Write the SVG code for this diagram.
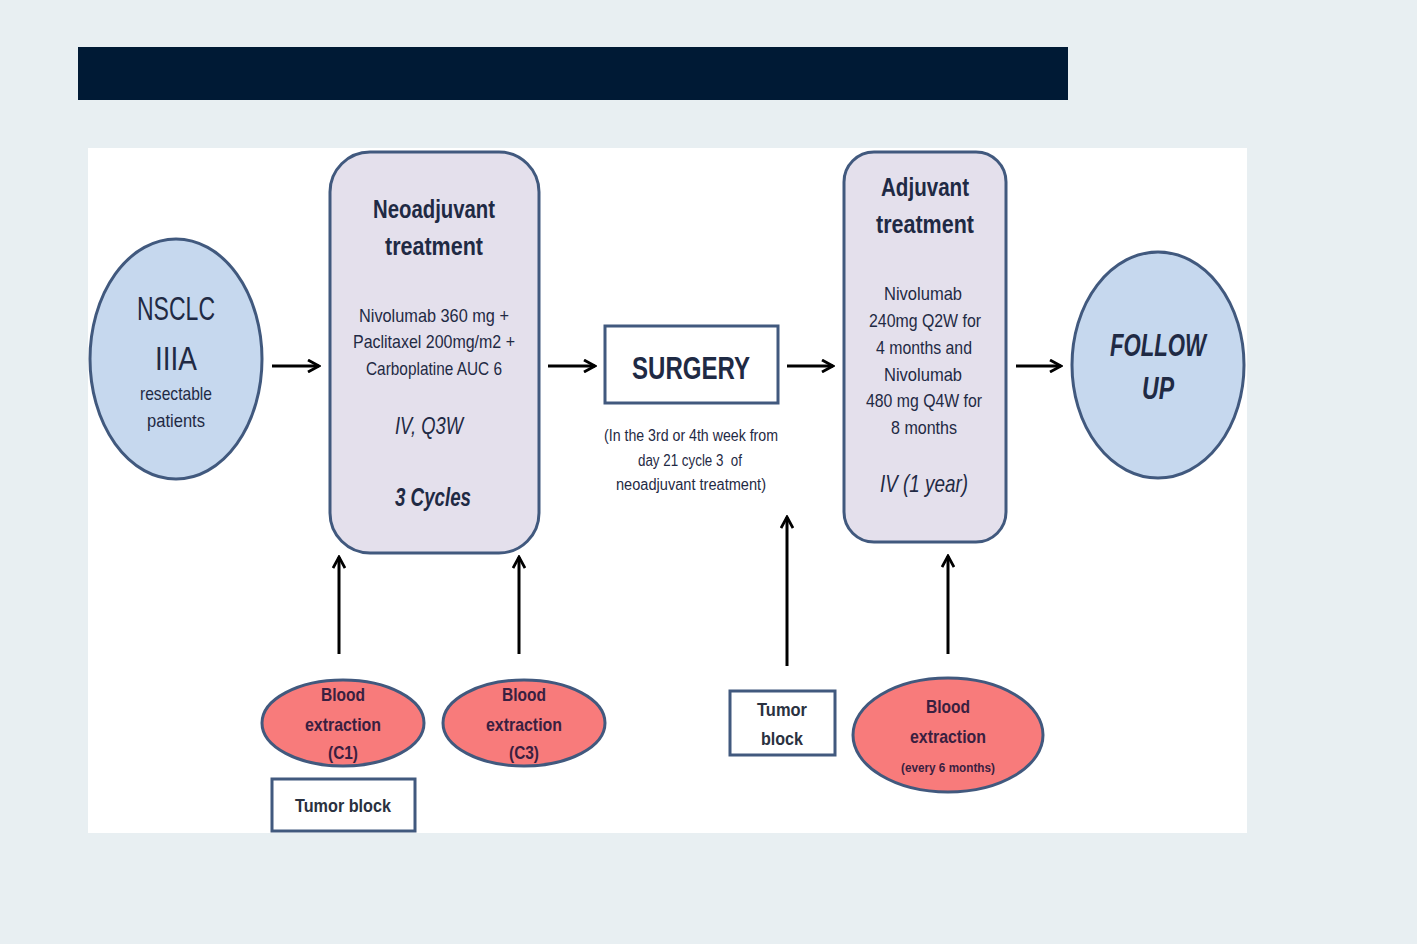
<svg xmlns="http://www.w3.org/2000/svg" width="1417" height="944" viewBox="0 0 1417 944">
<style>
text{font-family:"Liberation Sans Narrow","Liberation Sans",Arial,sans-serif;text-anchor:middle;fill:#1f2a44}
.ell{fill:#c6d8ee;stroke:#41597e;stroke-width:3}
.box{fill:#e4e0ec;stroke:#41597e;stroke-width:3}
.wbox{fill:#ffffff;stroke:#41597e;stroke-width:3}
.pink{fill:#f87b7b;stroke:#41597e;stroke-width:3}
.conn{stroke:#000;stroke-width:3;fill:none}
.b text{fill:#3a2040;font-weight:bold}
.t text{font-weight:bold;fill:#2a3140}
</style>
<defs>
<marker id="ah" viewBox="0 0 14 14" refX="12" refY="7" markerWidth="14" markerHeight="14" markerUnits="userSpaceOnUse" orient="auto">
<path d="M1,1 L12,7 L1,13" fill="none" stroke="#000" stroke-width="2.8"/>
</marker>
</defs>
<rect x="0" y="0" width="1417" height="944" fill="#e8eff2"/>
<rect x="78" y="47" width="990" height="53" fill="#001a35"/>
<rect x="88" y="148" width="1159" height="685" fill="#ffffff"/>

<g id="nsclc">
<ellipse class="ell" cx="176" cy="359" rx="86" ry="120"/>
<text x="176" y="320" font-size="34" textLength="78" lengthAdjust="spacingAndGlyphs">NSCLC</text>
<text x="176" y="370" font-size="34" textLength="42" lengthAdjust="spacingAndGlyphs">IIIA</text>
<text x="176" y="400" font-size="19" textLength="72" lengthAdjust="spacingAndGlyphs">resectable</text>
<text x="176" y="427" font-size="19" textLength="58" lengthAdjust="spacingAndGlyphs">patients</text>
</g>

<g id="neoadjuvant">
<rect class="box" x="330" y="152" width="209" height="401" rx="40"/>
<text x="434" y="218" font-size="26" font-weight="bold" textLength="122" lengthAdjust="spacingAndGlyphs">Neoadjuvant</text>
<text x="434" y="255" font-size="26" font-weight="bold" textLength="98" lengthAdjust="spacingAndGlyphs">treatment</text>
<text x="434" y="322" font-size="19" textLength="150" lengthAdjust="spacingAndGlyphs">Nivolumab 360 mg +</text>
<text x="434" y="348" font-size="19" textLength="162" lengthAdjust="spacingAndGlyphs">Paclitaxel 200mg/m2 +</text>
<text x="434" y="375" font-size="19" textLength="136" lengthAdjust="spacingAndGlyphs">Carboplatine AUC 6</text>
<text x="429" y="434" font-size="24" font-style="italic" textLength="68" lengthAdjust="spacingAndGlyphs">IV, Q3W</text>
<text x="433" y="506" font-size="25" font-style="italic" font-weight="bold" textLength="76" lengthAdjust="spacingAndGlyphs">3 Cycles</text>
</g>

<g id="surgery">
<rect class="wbox" x="605" y="326" width="173" height="77"/>
<text x="691" y="379" font-size="32" font-weight="bold" textLength="118" lengthAdjust="spacingAndGlyphs">SURGERY</text>
<text x="691" y="441" font-size="16" textLength="174" lengthAdjust="spacingAndGlyphs">(In the 3rd or 4th week from</text>
<text x="690" y="466" font-size="16" textLength="104" lengthAdjust="spacingAndGlyphs" xml:space="preserve">day 21 cycle 3  of</text>
<text x="691" y="490" font-size="16" textLength="150" lengthAdjust="spacingAndGlyphs">neoadjuvant treatment)</text>
</g>

<g id="adjuvant">
<rect class="box" x="844" y="152" width="162" height="390" rx="30"/>
<text x="925" y="196" font-size="25" font-weight="bold" textLength="88" lengthAdjust="spacingAndGlyphs">Adjuvant</text>
<text x="925" y="233" font-size="25" font-weight="bold" textLength="98" lengthAdjust="spacingAndGlyphs">treatment</text>
<text x="923" y="300" font-size="19" textLength="78" lengthAdjust="spacingAndGlyphs">Nivolumab</text>
<text x="925" y="327" font-size="19" textLength="112" lengthAdjust="spacingAndGlyphs">240mg Q2W for</text>
<text x="924" y="354" font-size="19" textLength="96" lengthAdjust="spacingAndGlyphs">4 months and</text>
<text x="923" y="381" font-size="19" textLength="78" lengthAdjust="spacingAndGlyphs">Nivolumab</text>
<text x="924" y="407" font-size="19" textLength="116" lengthAdjust="spacingAndGlyphs">480 mg Q4W for</text>
<text x="924" y="434" font-size="19" textLength="66" lengthAdjust="spacingAndGlyphs">8 months</text>
<text x="924" y="492" font-size="24" font-style="italic" textLength="88" lengthAdjust="spacingAndGlyphs">IV (1 year)</text>
</g>

<g id="followup">
<ellipse class="ell" cx="1158" cy="365" rx="86" ry="113"/>
<text x="1158" y="356" font-size="32" font-style="italic" font-weight="bold" textLength="96" lengthAdjust="spacingAndGlyphs">FOLLOW</text>
<text x="1158" y="399" font-size="32" font-style="italic" font-weight="bold" textLength="32" lengthAdjust="spacingAndGlyphs">UP</text>
</g>

<g id="blood-c1" class="b">
<ellipse class="pink" cx="343" cy="723" rx="81" ry="43"/>
<text x="343" y="701" font-size="19" textLength="44" lengthAdjust="spacingAndGlyphs">Blood</text>
<text x="343" y="731" font-size="19" textLength="76" lengthAdjust="spacingAndGlyphs">extraction</text>
<text x="343" y="759" font-size="19" textLength="30" lengthAdjust="spacingAndGlyphs">(C1)</text>
</g>

<g id="blood-c3" class="b">
<ellipse class="pink" cx="524" cy="723" rx="81" ry="43"/>
<text x="524" y="701" font-size="19" textLength="44" lengthAdjust="spacingAndGlyphs">Blood</text>
<text x="524" y="731" font-size="19" textLength="76" lengthAdjust="spacingAndGlyphs">extraction</text>
<text x="524" y="759" font-size="19" textLength="30" lengthAdjust="spacingAndGlyphs">(C3)</text>
</g>

<g id="tumor-block-1" class="t">
<rect class="wbox" x="272" y="779" width="143" height="52"/>
<text x="343" y="812" font-size="19" textLength="96" lengthAdjust="spacingAndGlyphs">Tumor block</text>
</g>

<g id="tumor-block-2" class="t">
<rect class="wbox" x="730" y="691" width="105" height="64"/>
<text x="782" y="716" font-size="19" textLength="50" lengthAdjust="spacingAndGlyphs">Tumor</text>
<text x="782" y="745" font-size="19" textLength="42" lengthAdjust="spacingAndGlyphs">block</text>
</g>

<g id="blood-6m" class="b">
<ellipse class="pink" cx="948" cy="735" rx="95" ry="57"/>
<text x="948" y="713" font-size="19" textLength="44" lengthAdjust="spacingAndGlyphs">Blood</text>
<text x="948" y="743" font-size="19" textLength="76" lengthAdjust="spacingAndGlyphs">extraction</text>
<text x="948" y="772" font-size="13" textLength="94" lengthAdjust="spacingAndGlyphs">(every 6 months)</text>
</g>

<g id="connectors">
<line class="conn" x1="272" y1="366" x2="319" y2="366" marker-end="url(#ah)"/>
<line class="conn" x1="548" y1="366" x2="595" y2="366" marker-end="url(#ah)"/>
<line class="conn" x1="787" y1="366" x2="833" y2="366" marker-end="url(#ah)"/>
<line class="conn" x1="1016" y1="366" x2="1061" y2="366" marker-end="url(#ah)"/>
<line class="conn" x1="339" y1="654" x2="339" y2="557" marker-end="url(#ah)"/>
<line class="conn" x1="519" y1="654" x2="519" y2="557" marker-end="url(#ah)"/>
<line class="conn" x1="787" y1="666" x2="787" y2="517" marker-end="url(#ah)"/>
<line class="conn" x1="948" y1="654" x2="948" y2="556" marker-end="url(#ah)"/>
</g>
</svg>
